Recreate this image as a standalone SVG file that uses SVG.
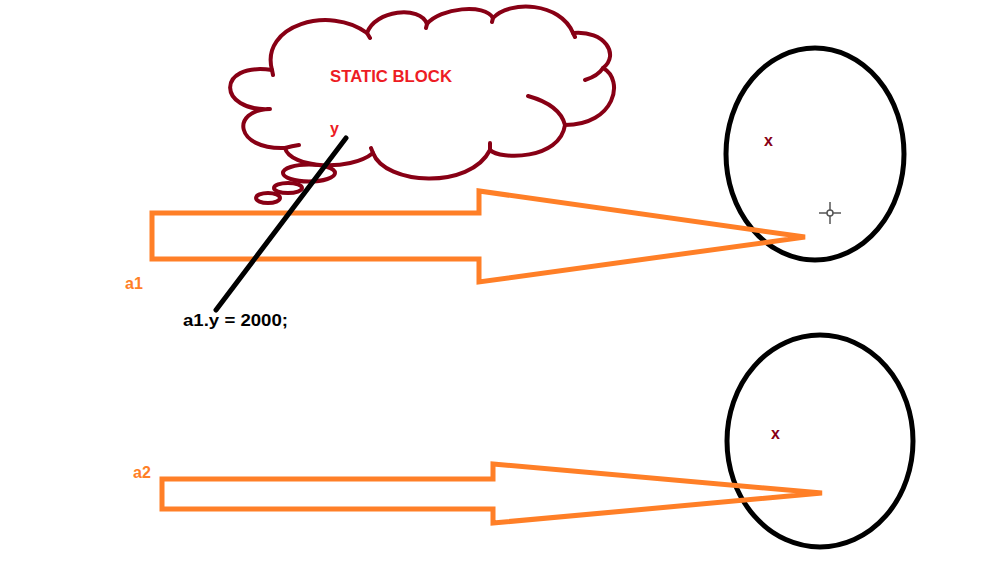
<svg xmlns="http://www.w3.org/2000/svg" width="1003" height="568" viewBox="0 0 1003 568">
<style>
.cloud{fill:none;stroke:#880015;stroke-width:4;stroke-linecap:round;stroke-linejoin:round}
.arrow{fill:none;stroke:#ff7f27;stroke-width:5;stroke-linejoin:miter}
.obj{fill:none;stroke:#000;stroke-width:5}
.t{font-family:"Liberation Sans",Arial,sans-serif;font-weight:bold}
</style>
<rect width="1003" height="568" fill="#fff"/>
<g id="static-block">
<path class="cloud" d="M 270,109 C 218,112 215,62 272,70 C 260,25 330,5 367,33 C 375,10 420,5 427,24 C 440,8 485,3 493,18 C 510,0 560,2 573,33 C 605,30 620,55 603,68 C 625,80 615,125 565,125 C 560,160 500,160 490,150 C 470,190 385,185 373,153 C 350,172 290,168 285,148 C 235,150 230,110 270,109 Z"/>
<path class="cloud" d="M 272,70 l 1,5 M 367,33 l 3,5 M 427,24 l -1,4 M 493,18 l -1,4 M 573,33 l 2,4 M 603,68 Q 598,76 585,80 M 528,96 Q 560,105 565,125 M 490,150 l 0,-7 M 373,153 l -2,-5 M 285,148 Q 292,146 299,145"/>
<ellipse class="cloud" cx="309" cy="173" rx="26" ry="8.5"/>
<ellipse class="cloud" cx="288" cy="188" rx="14" ry="5"/>
<ellipse class="cloud" cx="268" cy="198" rx="12" ry="5"/>
<text class="t" x="330" y="82" font-size="17" fill="#ed1c24" textLength="122" lengthAdjust="spacingAndGlyphs">STATIC BLOCK</text>
<text class="t" x="330" y="134" font-size="16" fill="#ed1c24">y</text>
</g>
<g id="object1">
<ellipse class="obj" cx="815" cy="154" rx="89" ry="106"/>
<text class="t" x="764" y="146" font-size="16" fill="#880015">x</text>
</g>
<g id="object2">
<ellipse class="obj" cx="820" cy="441" rx="93" ry="106"/>
<text class="t" x="771" y="439" font-size="16" fill="#880015">x</text>
</g>
<g id="connectors">
<polygon id="a1-arrow" class="arrow" points="152,213 479,213 479,191 805,237 479,282 479,259 152,259"/>
<polygon id="a2-arrow" class="arrow" points="162,479 493,479 493,464 822,493 493,523 493,509 162,509"/>
<line x1="346" y1="138" x2="216" y2="310" stroke="#000" stroke-width="5" stroke-linecap="round"/>
</g>
<g id="labels">
<text class="t" x="125" y="289" font-size="16" fill="#ff7f27">a1</text>
<text class="t" x="133" y="478" font-size="16" fill="#ff7f27">a2</text>
<text class="t" x="183" y="326" font-size="16" fill="#000" textLength="105" lengthAdjust="spacingAndGlyphs">a1.y = 2000;</text>
</g>
<g id="cursor" stroke="#555" stroke-width="1.5">
<line x1="819" y1="213" x2="841" y2="213"/>
<line x1="830" y1="202" x2="830" y2="224"/>
<circle cx="830" cy="213" r="3" fill="#fff"/>
</g>
</svg>
